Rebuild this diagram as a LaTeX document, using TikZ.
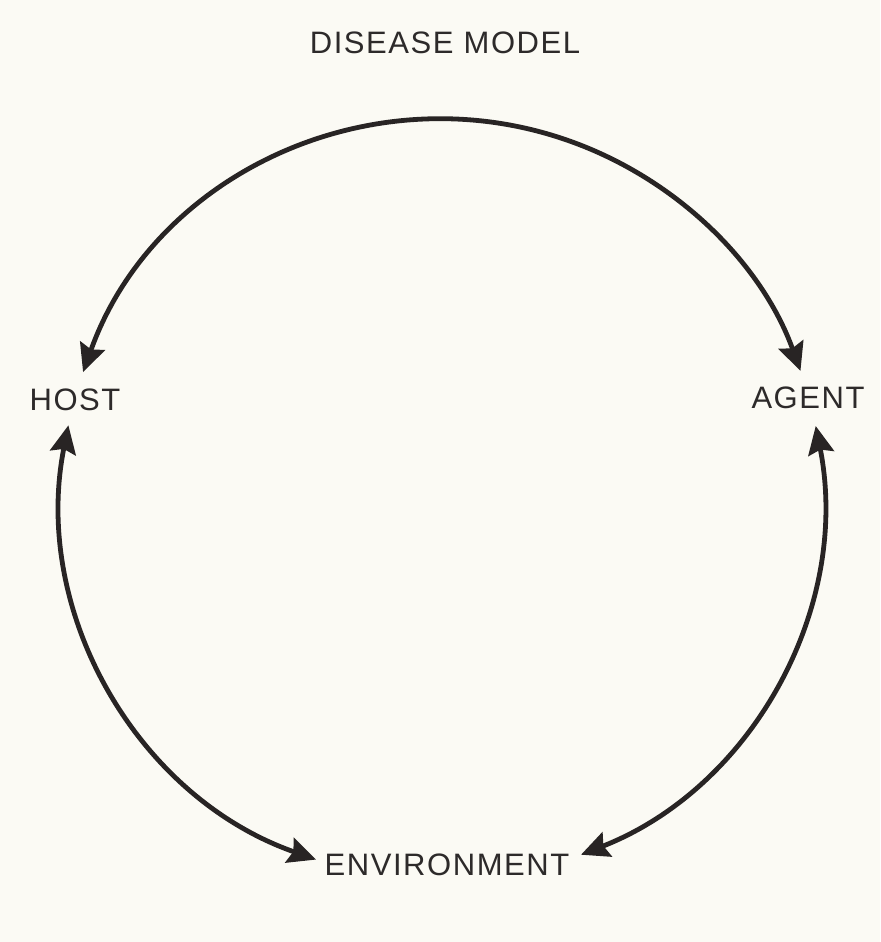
\documentclass[tikz,border=0pt]{standalone}
\usepackage{fontspec}
\setmainfont{Liberation Sans}[LetterSpace=5]
\usetikzlibrary{arrows.meta, calc}
\definecolor{paperBg}{RGB}{251,250,244}
\definecolor{inkLine}{RGB}{40,36,36}
\definecolor{inkText}{RGB}{45,42,42}

\begin{document}
\begin{tikzpicture}[
    x=0.5pt, y=0.5pt,
    label/.style={text=inkText, inner sep=0pt, font=\fontsize{15.5}{18}\selectfont},
    link/.style={{Stealth[length=14pt, width=13pt, inset=2pt]}-{Stealth[length=14pt, width=13pt, inset=2pt]}, line width=2.4pt, draw=inkLine}
]

% Page
\fill[paperBg] (0,0) rectangle (880,942);

% Title
\node[label] (title) at (445,899) {DISEASE MODEL};

% Corners of the triangle
\node[label] (host) at (75,542) {HOST};
\node[label] (agent) at (808,544) {AGENT};
\node[label] (env) at (447,77) {ENVIRONMENT};

% Arc end points round the centre
\coordinate (hub) at (442,442);
\coordinate (hostTop) at ($(hub)+(160.4:190.5pt)$);
\coordinate (hostBot) at ($(hub)+(168.7:190.5pt)$);
\coordinate (agentBot) at ($(hub)+(11.2:190.5pt)$);

% Arrows
\draw[link] (hostTop) arc[start angle=160.4, end angle=19.8, radius=190.5pt];
\draw[link] (hostBot) arc[start angle=168.7, end angle=250.7, radius=190.5pt];
\draw[link] (agentBot) arc[start angle=11.2, end angle=-68.6, radius=190.5pt];

\end{tikzpicture}
\end{document}
